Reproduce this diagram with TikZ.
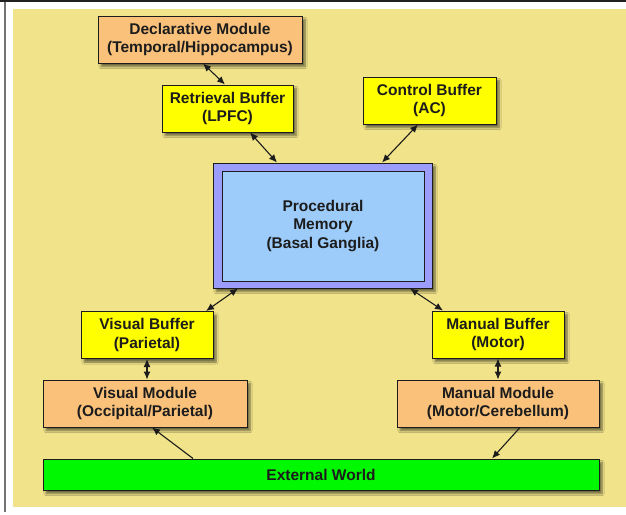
\documentclass[tikz,border=0pt]{standalone}
\usepackage{fontspec}
\setmainfont{Liberation Sans}
\usetikzlibrary{arrows.meta,shadows.blur}
\definecolor{paper}{HTML}{F0E38A}
\definecolor{modfill}{HTML}{F9C17A}
\definecolor{buffill}{HTML}{FFFF00}
\definecolor{procouter}{HTML}{9C9CFB}
\definecolor{procinner}{HTML}{9DCCFB}
\definecolor{worldfill}{HTML}{00F800}
\definecolor{ink}{HTML}{1C1C1C}
\tikzset{
  box/.style={draw=ink, line width=1pt, align=center, inner sep=0pt,
    text=ink, font=\bfseries\fontsize{15.5}{18.5}\selectfont,
    blur shadow={shadow xshift=3pt, shadow yshift=-3.5pt, shadow blur steps=6, shadow opacity=55}},
  modbox/.style={box, fill=modfill, minimum height=47pt},
  bufbox/.style={box, fill=buffill, minimum width=132pt, minimum height=47pt},
  tip/.style={Latex[length=8pt,width=7pt]},
  link/.style={draw=ink, line width=1.1pt, {Latex[length=8pt,width=7pt]}-{Latex[length=8pt,width=7pt]}},
  feed/.style={draw=ink, line width=1.1pt, -{Latex[length=8pt,width=7pt]}}
}
\begin{document}
\begin{tikzpicture}[x=1pt, y=-1pt]
  \useasboundingbox (0,0) rectangle (626,514);
  % page frame and backdrop
  \fill[white] (0,0) rectangle (626,514);
  \draw[line width=1.6pt, gray!25!black] (0,0.8) -- (626,0.8);
  \draw[line width=1.8pt, gray!110] (5,2) -- (5,512);
  \fill[paper] (13,9) rectangle (626,507);

  % modules and buffers
  \node[modbox, minimum width=204pt] (decl) at (200,39.5) {Declarative Module\\(Temporal/Hippocampus)};
  \node[bufbox, minimum width=131pt] (retr) at (227.5,108.5) {Retrieval Buffer\\(LPFC)};
  \node[bufbox, minimum width=133pt] (ctrl) at (429.5,100.5) {Control Buffer\\(AC)};

  % procedural memory: outer frame with inner panel
  \node[box, fill=procouter, minimum width=219pt, minimum height=125pt] (proc) at (322.5,225.5) {};
  \node[draw=ink, line width=1pt, fill=procinner, minimum width=202pt, minimum height=110pt,
        align=center, inner sep=0pt, text=ink, font=\bfseries\fontsize{15.5}{18.5}\selectfont]
        (procin) at (323,226) {Procedural\\Memory\\(Basal Ganglia)};

  \node[bufbox] (vbuf) at (147,335) {Visual Buffer\\(Parietal)};
  \node[bufbox] (mbuf) at (498,334.5) {Manual Buffer\\(Motor)};
  \node[modbox, minimum width=204pt] (vmod) at (145,403.5) {Visual Module\\(Occipital/Parietal)};
  \node[modbox, minimum width=202pt] (mmod) at (498,403.5) {Manual Module\\(Motor/Cerebellum)};
  \node[box, fill=worldfill, minimum width=556pt, minimum height=31pt] (world) at (321,474.5) {External World};

  % connections
  \draw[link] ([xshift=3pt]decl.south) -- ([xshift=-2.5pt]retr.north);
  \draw[link] ([xshift=22.5pt]retr.south) -- ([xshift=-45.5pt]proc.north);
  \draw[link] ([xshift=-11.5pt]ctrl.south) -- ([xshift=59.5pt]proc.north);
  \draw[link] ([xshift=-84.5pt]proc.south) -- ([xshift=59pt]vbuf.north);
  \draw[link] (vbuf.south) -- ([xshift=2pt]vmod.north);
  \draw[feed] ([xshift=-128pt]world.north) -- ([xshift=7pt]vmod.south);
  \draw[link] ([xshift=87.5pt]proc.south) -- ([xshift=-55pt]mbuf.north);
  \draw[link] (mbuf.south) -- (mmod.north);
  \draw[feed] ([xshift=22pt]mmod.south) -- ([xshift=171pt]world.north);
\end{tikzpicture}
\end{document}
